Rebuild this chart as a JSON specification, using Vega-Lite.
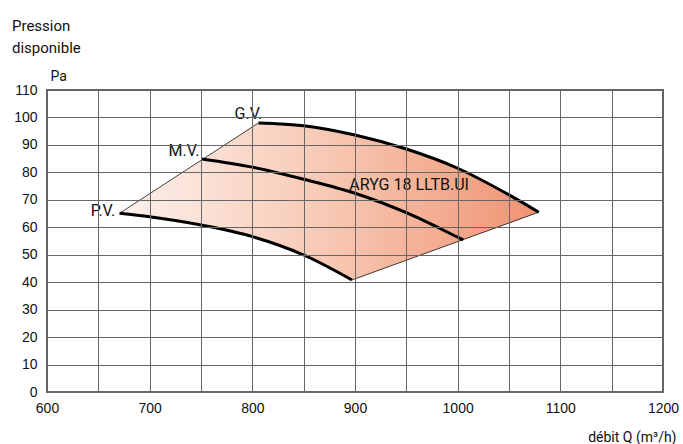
{
  "$schema": "https://vega.github.io/schema/vega-lite/v6.json",
  "width": 616,
  "height": 302,
  "autosize": {"type": "none"},
  "padding": {"left": 47, "top": 90, "right": 20, "bottom": 52},
  "background": "white",
  "config": {
    "view": {"stroke": "#666", "strokeWidth": 2},
    "font": "Roboto"
  },
  "title": {
    "text": ["Pression", "disponible"],
    "anchor": "start",
    "frame": "group",
    "orient": "top",
    "font": "Roboto",
    "fontSize": 15,
    "fontWeight": "normal",
    "color": "#111",
    "lineHeight": 22.5,
    "baseline": "alphabetic",
    "dx": -35,
    "offset": 1
  },
  "datasets": {
    "fill": [
      {"q": 670.7, "p": 65.1, "p2": 65.1},
      {"q": 700, "p": 72.2, "p2": 63.8},
      {"q": 750, "p": 84.3, "p2": 60.8},
      {"q": 800, "p": 96.5, "p2": 56.6},
      {"q": 806, "p": 98.0, "p2": 55.9},
      {"q": 850, "p": 97.0, "p2": 49.9},
      {"q": 897, "p": 93.8, "p2": 40.8},
      {"q": 950, "p": 88.5, "p2": 48.0},
      {"q": 1000, "p": 81.5, "p2": 54.7},
      {"q": 1050, "p": 71.8, "p2": 61.5},
      {"q": 1079, "p": 65.5, "p2": 65.5}
    ],
    "edges": [
      {"edge": "left", "q": 670.7, "p": 65.1},
      {"edge": "left", "q": 806, "p": 98.0},
      {"edge": "right", "q": 897, "p": 40.8},
      {"edge": "right", "q": 1079, "p": 65.5}
    ],
    "curves": [
      {"series": "P.V.", "q": 670.7, "p": 65.1},
      {"series": "P.V.", "q": 700, "p": 63.8},
      {"series": "P.V.", "q": 750, "p": 60.8},
      {"series": "P.V.", "q": 800, "p": 56.6},
      {"series": "P.V.", "q": 850, "p": 49.9},
      {"series": "P.V.", "q": 897, "p": 40.8},
      {"series": "M.V.", "q": 751, "p": 84.9},
      {"series": "M.V.", "q": 800, "p": 81.9},
      {"series": "M.V.", "q": 850, "p": 77.5},
      {"series": "M.V.", "q": 900, "p": 72.4},
      {"series": "M.V.", "q": 950, "p": 65.3},
      {"series": "M.V.", "q": 1000, "p": 56.4},
      {"series": "M.V.", "q": 1005.5, "p": 55.4},
      {"series": "G.V.", "q": 806, "p": 98.0},
      {"series": "G.V.", "q": 850, "p": 97.0},
      {"series": "G.V.", "q": 900, "p": 93.6},
      {"series": "G.V.", "q": 950, "p": 88.5},
      {"series": "G.V.", "q": 1000, "p": 81.5},
      {"series": "G.V.", "q": 1050, "p": 71.8},
      {"series": "G.V.", "q": 1079, "p": 65.5}
    ],
    "speeds": [
      {"label": "P.V.", "q": 666.5, "p": 65.9},
      {"label": "M.V.", "q": 748.4, "p": 87.8},
      {"label": "G.V.", "q": 809.7, "p": 101.4}
    ],
    "model": [
      {"label": "ARYG 18 LLTB.UI", "q": 894.4, "p": 75.4}
    ]
  },
  "encoding": {
    "x": {
      "field": "q", "type": "quantitative",
      "scale": {"domain": [600, 1200], "nice": false, "zero": false},
      "axis": {
        "values": [600, 650, 700, 750, 800, 850, 900, 950, 1000, 1050, 1100, 1150, 1200],
        "labelExpr": "datum.value % 100 === 0 ? datum.label : ''",
        "format": "d",
        "ticks": false,
        "domain": false,
        "grid": true,
        "gridColor": "#666",
        "gridOpacity": 1,
        "gridWidth": 1,
        "zindex": 1,
        "labelFont": "Liberation Sans",
        "labelFontSize": 14,
        "labelColor": "#111",
        "labelPadding": 9,
        "labelFlush": false,
        "labelOverlap": false,
        "title": "débit Q (m³/h)",
        "titleFont": "Roboto",
        "titleFontSize": 14,
        "titleFontWeight": "normal",
        "titleColor": "#111",
        "titleAlign": "right",
        "titleAnchor": null,
        "titleBaseline": "alphabetic",
        "titleX": 629,
        "titleY": 49
      }
    },
    "y": {
      "field": "p", "type": "quantitative",
      "scale": {"domain": [0, 110], "nice": false},
      "axis": {
        "values": [0, 10, 20, 30, 40, 50, 60, 70, 80, 90, 100, 110],
        "ticks": false,
        "domain": false,
        "grid": true,
        "gridColor": "#666",
        "gridOpacity": 1,
        "gridWidth": 1,
        "zindex": 1,
        "labelFont": "Liberation Sans",
        "labelFontSize": 14,
        "labelColor": "#111",
        "labelPadding": 10,
        "labelOverlap": false,
        "title": "Pa",
        "titleFont": "Roboto",
        "titleFontSize": 14,
        "titleFontWeight": "normal",
        "titleColor": "#111",
        "titleAngle": 0,
        "titleAlign": "left",
        "titleAnchor": null,
        "titleBaseline": "alphabetic",
        "titleX": 3,
        "titleY": -10
      }
    }
  },
  "layer": [
    {
      "data": {"name": "fill"},
      "mark": {
        "type": "area",
        "color": {
          "gradient": "linear",
          "x1": 0, "y1": 0, "x2": 1, "y2": 0,
          "stops": [
            {"offset": 0, "color": "#fdf1ec"},
            {"offset": 0.5, "color": "#f7c8b3"},
            {"offset": 1, "color": "#ef9372"}
          ]
        }
      },
      "encoding": {
        "y2": {"field": "p2"}
      }
    },
    {
      "data": {"name": "edges"},
      "mark": {"type": "line", "color": "#111", "strokeWidth": 0.8},
      "encoding": {
        "detail": {"field": "edge"}
      }
    },
    {
      "data": {"name": "curves"},
      "mark": {"type": "line", "color": "#000", "strokeWidth": 3, "interpolate": "monotone"},
      "encoding": {
        "detail": {"field": "series"}
      }
    },
    {
      "data": {"name": "speeds"},
      "mark": {"type": "text", "align": "right", "baseline": "middle", "font": "Roboto", "fontSize": 16, "color": "#111"},
      "encoding": {
        "text": {"field": "label"}
      }
    },
    {
      "data": {"name": "model"},
      "mark": {"type": "text", "align": "left", "baseline": "middle", "font": "Roboto", "fontSize": 16, "color": "#111"},
      "encoding": {
        "text": {"field": "label"}
      }
    }
  ]
}
